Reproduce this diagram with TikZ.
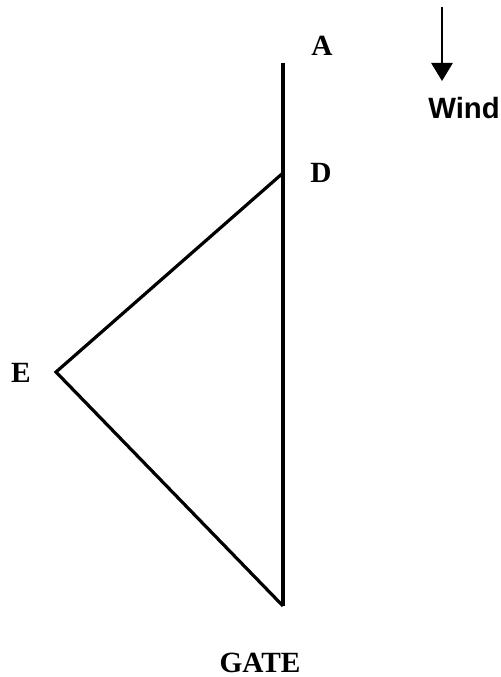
\documentclass[tikz,border=0pt]{standalone}
\usepackage{fontspec}
\setmainfont{Liberation Serif}
\newfontfamily\windfont{Liberation Sans}
\usetikzlibrary{
    arrows.meta,
    positioning,
    calc
}
\tikzset{
    ptlab/.style={
        font=\fontsize{22}{26}\selectfont\bfseries,
        inner sep=0pt
    },
    windlab/.style={
        font=\fontsize{22}{26}\selectfont\windfont\bfseries,
        inner sep=0pt
    },
    member/.style={
        line width=2.4pt,
        line join=miter
    },
    windarr/.style={
        -{Triangle[length=13.5pt,width=16pt]},
        line width=1.3pt
    }
}

\begin{document}
\begin{tikzpicture}[
    x=0.75pt,
    y=-0.75pt
]
\useasboundingbox (0,0) rectangle (500,677);

% points of the frame
\coordinate (top) at (283,63);
\coordinate (d) at (283,173);
\coordinate (e) at (56,372);
\coordinate (bot) at (283,606);

\node[ptlab] (labA) at (322,46) {A};
\node[ptlab] (labD) at (321,173) {D};
\node[ptlab] (labE) at (21,373) {E};
\node[ptlab] (gate) at (260,663) {GATE};

% wind direction
\coordinate (wtail) at (442,7);
\coordinate (wtip) at (442,81);
\node[windlab] (wind) at (464,108) {Wind};

\draw[member] (top) -- (bot);
\draw[member] (d) -- (e) -- (bot);
\draw[windarr] (wtail) -- (wtip);

\end{tikzpicture}
\end{document}
